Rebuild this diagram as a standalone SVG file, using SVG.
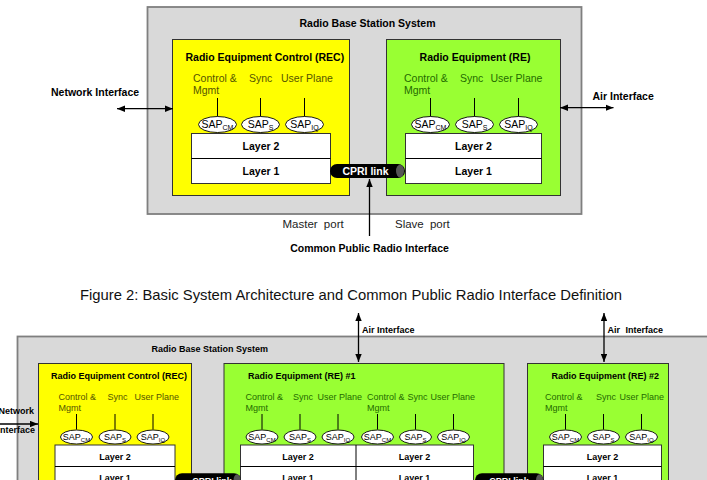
<svg xmlns="http://www.w3.org/2000/svg" width="707" height="480" viewBox="0 0 707 480">
<style>
text{font-family:"Liberation Sans",Arial,sans-serif}
.b{font-weight:bold;fill:#000}
.t1{font-size:10.5px}
.t2{font-size:9px}
.mid{text-anchor:middle}
.sys{fill:#d9d9d9;stroke:#7f7f7f;stroke-width:1.8}
.rec{fill:#ffff00;stroke:#333;stroke-width:1}
.re{fill:#99ff33;stroke:#333;stroke-width:1}
.lay{fill:#fff;stroke:#333;stroke-width:1}
.sap{fill:#fff;stroke:#000;stroke-width:0.9}
.stem{stroke:#000;stroke-width:1}
.lr{fill:#555500}
.lg{fill:#246b00}
.link{fill:#000}
.cap{fill:#555}
.lt{fill:#fff;font-weight:bold}
.arr{stroke:#000;stroke-width:1.3;fill:none}
.reg{fill:#222}
</style>
<defs>
<marker id="ah" viewBox="0 0 10 8" refX="10" refY="4" markerWidth="8" markerHeight="6.5" markerUnits="userSpaceOnUse" orient="auto-start-reverse">
<path d="M0,0 L10,4 L0,8 z" fill="#000"/>
</marker>
</defs>

<!-- ===== Top diagram ===== -->
<g id="rbs-top">
<rect class="sys" x="147.5" y="7" width="434" height="207"/>
<text class="b t1 mid" x="367.5" y="27">Radio Base Station System</text>
</g>

<g id="rec-top">
<rect class="rec" x="172.5" y="39.5" width="177" height="156"/>
<text class="b t1" x="185.5" y="61">Radio Equipment Control (REC)</text>
<text class="t1 lr" x="193" y="82">Control &amp;</text>
<text class="t1 lr" x="193" y="94">Mgmt</text>
<text class="t1 lr" x="249" y="82">Sync</text>
<text class="t1 lr" x="281" y="82">User Plane</text>
<line class="stem" x1="217.5" y1="98" x2="217.5" y2="116.5"/>
<line class="stem" x1="260.5" y1="98" x2="260.5" y2="116.5"/>
<line class="stem" x1="304.5" y1="98" x2="304.5" y2="116.5"/>
<ellipse class="sap" cx="217.5" cy="124.5" rx="19" ry="8"/>
<ellipse class="sap" cx="260.5" cy="124.5" rx="19" ry="8"/>
<ellipse class="sap" cx="304.5" cy="124.5" rx="19" ry="8"/>
<text class="t1 mid" x="217.5" y="127.5">SAP<tspan font-size="7" dy="2.5">CM</tspan></text>
<text class="t1 mid" x="260.5" y="127.5">SAP<tspan font-size="7" dy="2.5">S</tspan></text>
<text class="t1 mid" x="304.5" y="127.5">SAP<tspan font-size="7" dy="2.5">IQ</tspan></text>
<rect class="lay" x="191.5" y="133.5" width="139" height="50"/>
<line class="stem" x1="191.5" y1="158.5" x2="330.5" y2="158.5"/>
<text class="b t1 mid" x="261" y="150">Layer 2</text>
<text class="b t1 mid" x="261" y="175">Layer 1</text>
</g>

<g id="re-top">
<rect class="re" x="386.5" y="39.5" width="174" height="156"/>
<text class="b t1 mid" x="475" y="61">Radio Equipment (RE)</text>
<text class="t1 lg" x="404" y="82">Control &amp;</text>
<text class="t1 lg" x="404" y="94">Mgmt</text>
<text class="t1 lg" x="460" y="82">Sync</text>
<text class="t1 lg" x="490.5" y="82">User Plane</text>
<line class="stem" x1="430.5" y1="98" x2="430.5" y2="116.5"/>
<line class="stem" x1="474.5" y1="98" x2="474.5" y2="116.5"/>
<line class="stem" x1="518.5" y1="98" x2="518.5" y2="116.5"/>
<ellipse class="sap" cx="430.5" cy="124.5" rx="19" ry="8"/>
<ellipse class="sap" cx="474.5" cy="124.5" rx="19" ry="8"/>
<ellipse class="sap" cx="518.5" cy="124.5" rx="19" ry="8"/>
<text class="t1 mid" x="430.5" y="127.5">SAP<tspan font-size="7" dy="2.5">CM</tspan></text>
<text class="t1 mid" x="474.5" y="127.5">SAP<tspan font-size="7" dy="2.5">S</tspan></text>
<text class="t1 mid" x="518.5" y="127.5">SAP<tspan font-size="7" dy="2.5">IQ</tspan></text>
<rect class="lay" x="405.5" y="133.5" width="136" height="50"/>
<line class="stem" x1="405.5" y1="158.5" x2="541.5" y2="158.5"/>
<text class="b t1 mid" x="473.5" y="150">Layer 2</text>
<text class="b t1 mid" x="473.5" y="175">Layer 1</text>
</g>

<g id="cpri-link-top">
<rect class="link" x="330" y="164" width="75" height="14" rx="7"/>
<ellipse class="cap" cx="400" cy="171" rx="4" ry="6.3"/>
<text class="lt t1 mid" x="365.5" y="175">CPRI link</text>
</g>

<g id="labels-top">
<text class="b t1" x="51" y="96">Network Interface</text>
<text class="b t1" x="592.5" y="99.5">Air Interface</text>
<text class="reg" font-size="11.5" x="282.5" y="228" word-spacing="3">Master port</text>
<text class="reg" font-size="11.5" x="395" y="228" word-spacing="3">Slave port</text>
<text class="b t1 mid" x="369.5" y="252">Common Public Radio Interface</text>
</g>

<text id="caption" x="80" y="299.5" font-size="14.8" fill="#111">Figure 2: Basic System Architecture and Common Public Radio Interface Definition</text>

<!-- ===== Bottom diagram ===== -->
<g id="rbs-bottom">
<rect class="sys" x="17.5" y="336.5" width="700" height="160"/>
<text class="b t2" x="151.5" y="352">Radio Base Station System</text>
</g>

<g id="rec-bottom">
<rect class="rec" x="38.5" y="363.5" width="153" height="130"/>
<text class="b t2" x="51" y="379">Radio Equipment Control (REC)</text>
<text class="t2 lr" x="58.5" y="399.5">Control &amp;</text>
<text class="t2 lr" x="58.5" y="410.5">Mgmt</text>
<text class="t2 lr" x="107.5" y="399.5">Sync</text>
<text class="t2 lr" x="134.5" y="399.5">User Plane</text>
<line class="stem" x1="76.5" y1="414" x2="76.5" y2="429.5"/>
<line class="stem" x1="115" y1="414" x2="115" y2="429.5"/>
<line class="stem" x1="153" y1="414" x2="153" y2="429.5"/>
<ellipse class="sap" cx="76.5" cy="437" rx="16" ry="7"/>
<ellipse class="sap" cx="115" cy="437" rx="16" ry="7"/>
<ellipse class="sap" cx="153" cy="437" rx="16" ry="7"/>
<text class="t2 mid" x="76.5" y="439.5">SAP<tspan font-size="6" dy="2.5">CM</tspan></text>
<text class="t2 mid" x="115" y="439.5">SAP<tspan font-size="6" dy="2.5">S</tspan></text>
<text class="t2 mid" x="153" y="439.5">SAP<tspan font-size="6" dy="2.5">IQ</tspan></text>
<rect class="lay" x="55" y="445" width="120" height="50"/>
<line class="stem" x1="55" y1="466.5" x2="175" y2="466.5"/>
<text class="b t2 mid" x="115" y="460">Layer 2</text>
<text class="b t2 mid" x="115" y="480.5">Layer 1</text>
</g>

<g id="re1-bottom">
<rect class="re" x="224" y="363.5" width="280" height="130"/>
<text class="b t2" x="248" y="379">Radio Equipment (RE) #1</text>
<text class="t2 lg" x="245.5" y="399.5">Control &amp;</text>
<text class="t2 lg" x="245.5" y="410.5">Mgmt</text>
<text class="t2 lg" x="293" y="399.5">Sync</text>
<text class="t2 lg" x="317.5" y="399.5">User Plane</text>
<text class="t2 lg" x="367" y="399.5">Control &amp;</text>
<text class="t2 lg" x="367" y="410.5">Mgmt</text>
<text class="t2 lg" x="407.5" y="399.5">Sync</text>
<text class="t2 lg" x="430.5" y="399.5">User Plane</text>
<line class="stem" x1="262" y1="414" x2="262" y2="429.5"/>
<line class="stem" x1="300" y1="414" x2="300" y2="429.5"/>
<line class="stem" x1="338" y1="414" x2="338" y2="429.5"/>
<line class="stem" x1="377.5" y1="414" x2="377.5" y2="429.5"/>
<line class="stem" x1="415.5" y1="414" x2="415.5" y2="429.5"/>
<line class="stem" x1="453.5" y1="414" x2="453.5" y2="429.5"/>
<ellipse class="sap" cx="262" cy="437" rx="16" ry="7"/>
<ellipse class="sap" cx="300" cy="437" rx="16" ry="7"/>
<ellipse class="sap" cx="338" cy="437" rx="16" ry="7"/>
<ellipse class="sap" cx="377.5" cy="437" rx="16" ry="7"/>
<ellipse class="sap" cx="415.5" cy="437" rx="16" ry="7"/>
<ellipse class="sap" cx="453.5" cy="437" rx="16" ry="7"/>
<text class="t2 mid" x="262" y="439.5">SAP<tspan font-size="6" dy="2.5">CM</tspan></text>
<text class="t2 mid" x="300" y="439.5">SAP<tspan font-size="6" dy="2.5">S</tspan></text>
<text class="t2 mid" x="338" y="439.5">SAP<tspan font-size="6" dy="2.5">IQ</tspan></text>
<text class="t2 mid" x="377.5" y="439.5">SAP<tspan font-size="6" dy="2.5">CM</tspan></text>
<text class="t2 mid" x="415.5" y="439.5">SAP<tspan font-size="6" dy="2.5">S</tspan></text>
<text class="t2 mid" x="453.5" y="439.5">SAP<tspan font-size="6" dy="2.5">IQ</tspan></text>
<rect class="lay" x="240.5" y="445" width="233" height="50"/>
<line class="stem" x1="240.5" y1="466.5" x2="473.5" y2="466.5"/>
<line class="stem" x1="356" y1="445" x2="356" y2="495"/>
<text class="b t2 mid" x="298" y="460">Layer 2</text>
<text class="b t2 mid" x="414.5" y="460">Layer 2</text>
<text class="b t2 mid" x="298" y="480.5">Layer 1</text>
<text class="b t2 mid" x="414.5" y="480.5">Layer 1</text>
</g>

<g id="re2-bottom">
<rect class="re" x="527.5" y="363.5" width="141" height="130"/>
<text class="b t2" x="551.5" y="379">Radio Equipment (RE) #2</text>
<text class="t2 lg" x="545" y="399.5">Control &amp;</text>
<text class="t2 lg" x="545" y="410.5">Mgmt</text>
<text class="t2 lg" x="596" y="399.5">Sync</text>
<text class="t2 lg" x="619.5" y="399.5">User Plane</text>
<line class="stem" x1="565.5" y1="414" x2="565.5" y2="429.5"/>
<line class="stem" x1="603.5" y1="414" x2="603.5" y2="429.5"/>
<line class="stem" x1="641.5" y1="414" x2="641.5" y2="429.5"/>
<ellipse class="sap" cx="565.5" cy="437" rx="16" ry="7"/>
<ellipse class="sap" cx="603.5" cy="437" rx="16" ry="7"/>
<ellipse class="sap" cx="641.5" cy="437" rx="16" ry="7"/>
<text class="t2 mid" x="565.5" y="439.5">SAP<tspan font-size="6" dy="2.5">CM</tspan></text>
<text class="t2 mid" x="603.5" y="439.5">SAP<tspan font-size="6" dy="2.5">S</tspan></text>
<text class="t2 mid" x="641.5" y="439.5">SAP<tspan font-size="6" dy="2.5">IQ</tspan></text>
<rect class="lay" x="543.5" y="445" width="118" height="50"/>
<line class="stem" x1="543.5" y1="466.5" x2="661.5" y2="466.5"/>
<text class="b t2 mid" x="602.5" y="460">Layer 2</text>
<text class="b t2 mid" x="602.5" y="480.5">Layer 1</text>
</g>

<g id="cpri-link-1">
<rect class="link" x="175" y="473.3" width="66" height="14" rx="7"/>
<ellipse class="cap" cx="237" cy="480.3" rx="3.5" ry="6"/>
<text class="lt t2 mid" x="212" y="484">CPRI link</text>
</g>
<g id="cpri-link-2">
<rect class="link" x="475" y="473.3" width="68.5" height="14" rx="7"/>
<ellipse class="cap" cx="539.5" cy="480.3" rx="3.5" ry="6"/>
<text class="lt t2 mid" x="509" y="484">CPRI link</text>
</g>

<g id="labels-bottom">
<text class="b t2" x="-1.5" y="414">Network</text>
<text class="b t2" x="-2.5" y="433">Interface</text>
<text class="b t2" x="362" y="333">Air Interface</text>
<text class="b t2" x="607.5" y="333" word-spacing="3">Air Interface</text>
</g>

<g id="connectors">
<line class="arr" x1="117" y1="108.7" x2="173" y2="108.7" marker-start="url(#ah)" marker-end="url(#ah)"/>
<line class="arr" x1="560" y1="107.7" x2="613.5" y2="107.7" marker-start="url(#ah)" marker-end="url(#ah)"/>
<line class="arr" x1="369.5" y1="236" x2="369.5" y2="179" marker-end="url(#ah)"/>
<line class="arr" x1="0" y1="424" x2="38" y2="424" marker-end="url(#ah)"/>
<line class="arr" x1="358.5" y1="313" x2="358.5" y2="362" marker-start="url(#ah)" marker-end="url(#ah)"/>
<line class="arr" x1="604" y1="313" x2="604" y2="362" marker-start="url(#ah)" marker-end="url(#ah)"/>
</g>
</svg>
